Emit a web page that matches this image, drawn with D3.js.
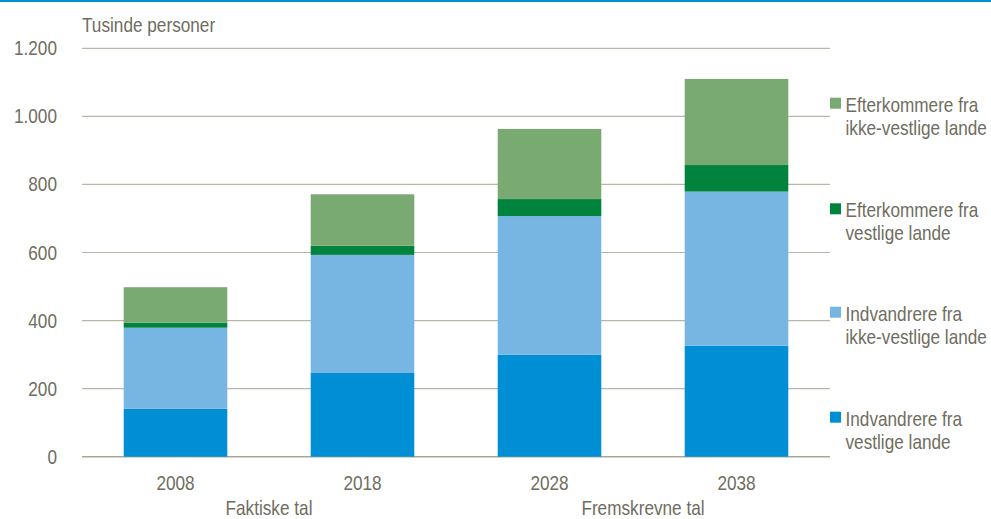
<!DOCTYPE html>
<html>
<head>
<meta charset="utf-8">
<title>Indvandrere og efterkommere</title>
<style>
    body { margin: 0; background: #fff; }
    svg text { font-family: "Liberation Sans", Arial, sans-serif; fill: #6f6d60; }
</style>
<script src="https://d3js.org/d3.v7.min.js"></script>
</head>
<body>
<div id="chart"></div>
<script>
// data (thousand persons)
var years = ["2008", "2018", "2028", "2038"];
var indvVestlige = [141, 246, 300, 326];
var indvIkkeVestlige = [238, 347, 407, 453];
var efterVestlige = [15, 27, 50, 78];
var efterIkkeVestlige = [104, 151, 206, 253];
var seriesNames = [
    "Indvandrere fra vestlige lande",
    "Indvandrere fra ikke-vestlige lande",
    "Efterkommere fra vestlige lande",
    "Efterkommere fra ikke-vestlige lande"
];
var legendLines = [
    ["Indvandrere fra", "vestlige lande"],
    ["Indvandrere fra", "ikke-vestlige lande"],
    ["Efterkommere fra", "vestlige lande"],
    ["Efterkommere fra", "ikke-vestlige lande"]
];
var colors = ["#008fd5", "#77b5e3", "#00843d", "#79aa71"];
var yTicks = [0, 200, 400, 600, 800, 1000, 1200];
var groupLabels = [
    { text: "Faktiske tal", from: "2008", to: "2018" },
    { text: "Fremskrevne tal", from: "2028", to: "2038" }
];

var W = 991, H = 519;
var margin = { top: 48.3, right: 161, bottom: 62.3, left: 82 };
var width = W - margin.left - margin.right;
var height = H - margin.top - margin.bottom;
var squeeze = 0.86; // the font in the picture is a bit narrow

var svg = d3.select("#chart").append("svg")
    .attr("width", W)
    .attr("height", H);

// blue line across the top
svg.append("rect")
    .attr("x", 0).attr("y", 0)
    .attr("width", W).attr("height", 2)
    .attr("fill", "#0090d4");

var g = svg.append("g")
    .attr("transform", "translate(" + margin.left + "," + margin.top + ")");

var x = d3.scaleBand()
    .domain(years)
    .range([0, width])
    .paddingInner(0.446)
    .paddingOuter(0.223);

var y = d3.scaleLinear()
    .domain([0, 1200])
    .range([height, 0]);

function label(sel, tx, ty, txt, anchor, size) {
    return sel.append("g")
        .attr("transform", "translate(" + tx + "," + ty + ") scale(" + squeeze + ",1)")
        .append("text")
        .attr("text-anchor", anchor)
        .style("font-size", size + "px")
        .text(txt);
}

// gridlines
g.selectAll(".grid")
    .data(yTicks)
    .enter().append("line")
    .attr("x1", 0).attr("x2", width)
    .attr("y1", function (d) { return y(d); })
    .attr("y2", function (d) { return y(d); })
    .attr("stroke", function (d) { return d == 0 ? "#a9a698" : "#b8b6a9"; })
    .attr("stroke-width", function (d) { return d == 0 ? 1.6 : 1.2; });

// y tick labels
yTicks.forEach(function (t) {
    label(g, -25, y(t) + 7, d3.format(",")(t).replace(/,/g, "."), "end", 20);
});

// axis title
label(svg, margin.left, 32.3, "Tusinde personer", "start", 20);

// stacked bars
var rows = years.map(function (yr, i) {
    var r = { year: yr };
    r[seriesNames[0]] = indvVestlige[i];
    r[seriesNames[1]] = indvIkkeVestlige[i];
    r[seriesNames[2]] = efterVestlige[i];
    r[seriesNames[3]] = efterIkkeVestlige[i];
    return r;
});
var stacked = d3.stack().keys(seriesNames)(rows);

g.selectAll(".layer")
    .data(stacked)
    .enter().append("g")
    .attr("fill", function (d, i) { return colors[i]; })
    .selectAll("rect")
    .data(function (d) { return d; })
    .enter().append("rect")
    .attr("x", function (d) { return x(d.data.year); })
    .attr("width", x.bandwidth())
    .attr("y", function (d) { return y(d[1]); })
    .attr("height", function (d) { return y(d[0]) - y(d[1]); });

// x labels
years.forEach(function (yr) {
    label(g, x(yr) + x.bandwidth() / 2, height + 33.5, yr, "middle", 20);
});

groupLabels.forEach(function (gl) {
    var cx = (x(gl.from) + x(gl.to) + x.bandwidth()) / 2;
    label(g, cx, height + 58, gl.text, "middle", 20);
});

// legend, top item is the top of the stack
var legendTop = [411.7, 306.7, 203.3, 97.7];
var legend = svg.append("g");
seriesNames.forEach(function (name, i) {
    legend.append("rect")
        .attr("x", 830).attr("y", legendTop[i])
        .attr("width", 11).attr("height", 11)
        .attr("fill", colors[i]);
    label(legend, 845.5, legendTop[i] + 14, legendLines[i][0], "start", 20);
    label(legend, 845.5, legendTop[i] + 37, legendLines[i][1], "start", 20);
});
</script>
</body>
</html>
